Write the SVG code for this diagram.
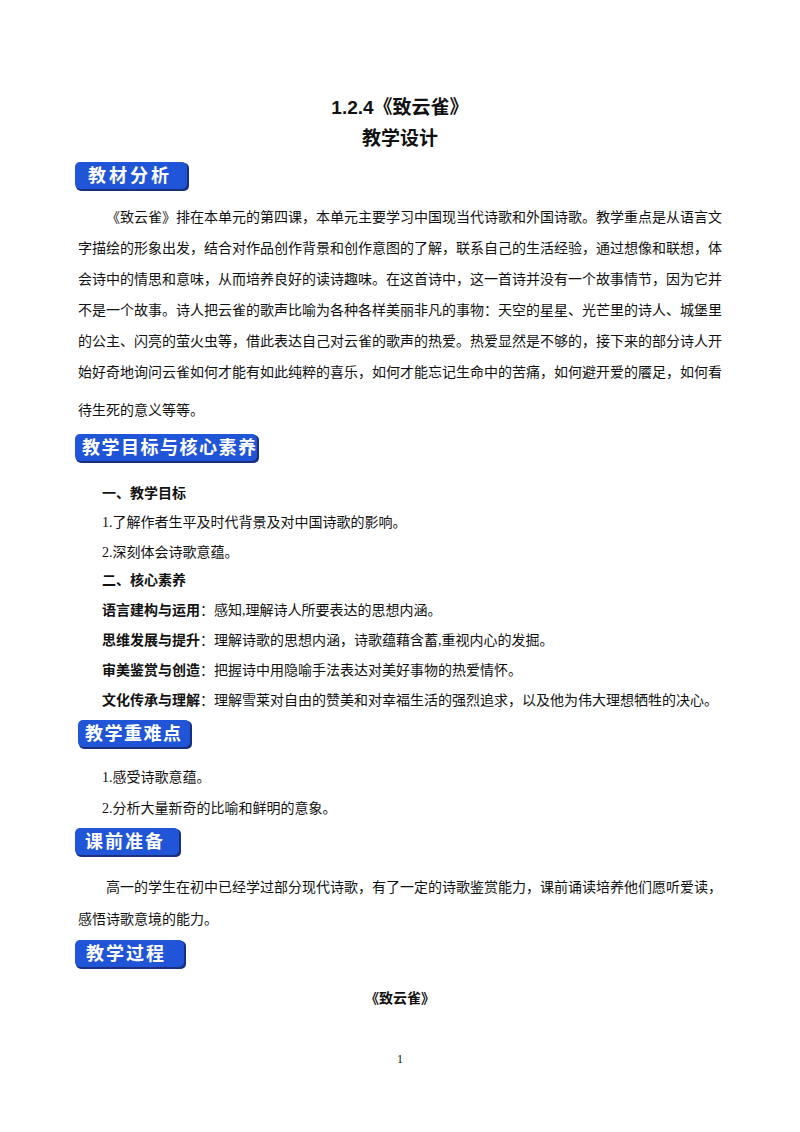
<svg xmlns="http://www.w3.org/2000/svg" width="800" height="1132" viewBox="0 0 800 1132">
<style>
.t{font-family:"Liberation Serif","Noto Sans CJK SC",serif;font-size:14px;fill:#111}
.b{font-family:"Liberation Sans","Noto Sans CJK SC",sans-serif;font-weight:bold;font-size:14px;fill:#111}
.h{font-family:"Liberation Sans","Noto Sans CJK SC",sans-serif;font-weight:bold;font-size:19px;fill:#111}
.bd rect.s{fill:#1a2f80}
.bd rect.f{fill:#1f55d6}
.bd text{font-family:"Noto Sans CJK SC",sans-serif;font-weight:bold;font-size:18px;fill:#fff;letter-spacing:3px}
</style>
<rect width="800" height="1132" fill="#fff"/>
<text class="h" x="400" y="114" text-anchor="middle">1.2.4《致云雀》</text>
<text class="h" x="400" y="145" text-anchor="middle">教学设计</text>

<g id="badge1" class="bd"><rect class="s" x="76" y="163" width="113" height="28" rx="5"/><rect class="f" x="75" y="162" width="112" height="27" rx="5"/><text x="88" y="182">教材分析</text></g>
<g id="p1">
<text class="t" x="106" y="222" textLength="616" lengthAdjust="spacingAndGlyphs">《致云雀》排在本单元的第四课，本单元主要学习中国现当代诗歌和外国诗歌。教学重点是从语言文</text>
<text class="t" x="78" y="253" textLength="644" lengthAdjust="spacingAndGlyphs">字描绘的形象出发，结合对作品创作背景和创作意图的了解，联系自己的生活经验，通过想像和联想，体</text>
<text class="t" x="78" y="284" textLength="644" lengthAdjust="spacingAndGlyphs">会诗中的情思和意味，从而培养良好的读诗趣味。在这首诗中，这一首诗并没有一个故事情节，因为它并</text>
<text class="t" x="78" y="315" textLength="644" lengthAdjust="spacingAndGlyphs">不是一个故事。诗人把云雀的歌声比喻为各种各样美丽非凡的事物：天空的星星、光芒里的诗人、城堡里</text>
<text class="t" x="78" y="346" textLength="644" lengthAdjust="spacingAndGlyphs">的公主、闪亮的萤火虫等，借此表达自己对云雀的歌声的热爱。热爱显然是不够的，接下来的部分诗人开</text>
<text class="t" x="78" y="377" textLength="644" lengthAdjust="spacingAndGlyphs">始好奇地询问云雀如何才能有如此纯粹的喜乐，如何才能忘记生命中的苦痛，如何避开爱的餍足，如何看</text>
<text class="t" x="78" y="415">待生死的意义等等。</text>
</g>

<g id="badge2" class="bd"><rect class="s" x="76" y="435" width="183" height="28" rx="5"/><rect class="f" x="75" y="434" width="182" height="27" rx="5"/><text x="82" y="454" style="letter-spacing:1.5px">教学目标与核心素养</text></g>
<g id="p2">
<text class="b" x="102" y="498">一、教学目标</text>
<text class="t" x="102" y="527">1.了解作者生平及时代背景及对中国诗歌的影响。</text>
<text class="t" x="102" y="557">2.深刻体会诗歌意蕴。</text>
<text class="b" x="102" y="585">二、核心素养</text>
<text class="t" x="102" y="615"><tspan class="b">语言建构与运用</tspan>：感知,理解诗人所要表达的思想内涵。</text>
<text class="t" x="102" y="645"><tspan class="b">思维发展与提升</tspan>：理解诗歌的思想内涵，诗歌蕴藉含蓄,重视内心的发掘。</text>
<text class="t" x="102" y="675"><tspan class="b">审美鉴赏与创造</tspan>：把握诗中用隐喻手法表达对美好事物的热爱情怀。</text>
<text class="t" x="102" y="705"><tspan class="b">文化传承与理解</tspan>：理解雪莱对自由的赞美和对幸福生活的强烈追求，以及他为伟大理想牺牲的决心。</text>
</g>

<g id="badge3" class="bd"><rect class="s" x="79" y="721" width="113" height="28" rx="5"/><rect class="f" x="78" y="720" width="112" height="27" rx="5"/><text x="85" y="740" style="letter-spacing:1.5px">教学重难点</text></g>
<g id="p3">
<text class="t" x="102" y="782">1.感受诗歌意蕴。</text>
<text class="t" x="102" y="813">2.分析大量新奇的比喻和鲜明的意象。</text>
</g>

<g id="badge4" class="bd"><rect class="s" x="76" y="829" width="105" height="28" rx="5"/><rect class="f" x="75" y="828" width="104" height="27" rx="5"/><text x="85" y="848" style="letter-spacing:2px">课前准备</text></g>
<g id="p4">
<text class="t" x="106" y="892" textLength="616" lengthAdjust="spacingAndGlyphs">高一的学生在初中已经学过部分现代诗歌，有了一定的诗歌鉴赏能力，课前诵读培养他们愿听爱读，</text>
<text class="t" x="78" y="924">感悟诗歌意境的能力。</text>
</g>

<g id="badge5" class="bd"><rect class="s" x="76" y="941" width="110" height="28" rx="5"/><rect class="f" x="75" y="940" width="109" height="27" rx="5"/><text x="86" y="960" style="letter-spacing:2px">教学过程</text></g>
<text class="b" x="400" y="1003" text-anchor="middle">《致云雀》</text>
<text class="t" x="400" y="1063" text-anchor="middle" style="font-size:12px">1</text>
</svg>
